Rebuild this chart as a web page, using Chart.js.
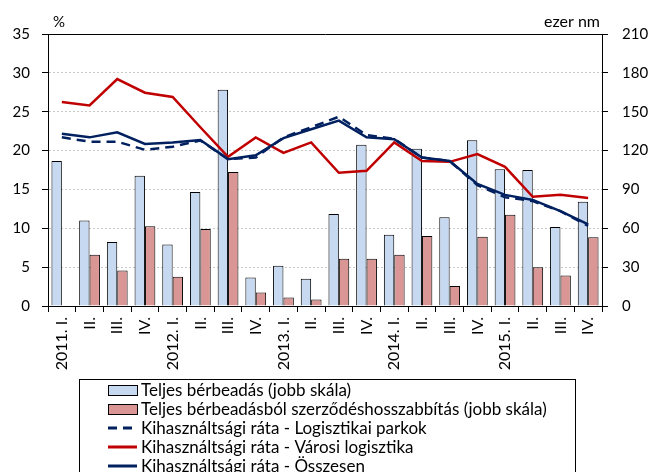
<!DOCTYPE html>
<html lang="hu">
<head>
<meta charset="UTF-8">
<title>Logisztikai ingatlanpiac</title>
<script src="https://cdn.jsdelivr.net/npm/chart.js"></script>
<style>
  html, body { margin: 0; padding: 0; background: #fff; overflow: hidden; }
</style>
</head>
<body>
<canvas id="chart" width="653" height="472"></canvas>
<script>
// quarters on the x axis
const quarters = ['2011. I.', 'II.', 'III.', 'IV.', '2012. I.', 'II.', 'III.', 'IV.',
                  '2013. I.', 'II.', 'III.', 'IV.', '2014. I.', 'II.', 'III.', 'IV.',
                  '2015. I.', 'II.', 'III.', 'IV.'];

// ezer nm (right scale)
const totalLeasing = [112, 66, 49.5, 100.5, 47.5, 88, 167, 22, 31, 21,
                      71, 124.5, 55, 121.5, 68.5, 128, 105.5, 105, 61, 80.5];
const renewals = [null, 39.5, 27.5, 61.5, 22.5, 59.5, 103.5, 10.5, 6.5, 5,
                  36.5, 36.5, 39.5, 54, 15.5, 53.5, 70.5, 30, 23.5, 53];

// kihasználtsági ráta, % (left scale)
const rateParks = [21.7, 21.15, 21.15, 20.1, 20.5, 21.3, 18.9, 19.1, 21.7, 23.0,
                   24.35, 22.0, 21.5, 19.1, 18.65, 15.55, 14.0, 13.5, 12.2, 10.3];
const rateCity = [26.25, 25.8, 29.2, 27.45, 26.9, 23.0, 19.2, 21.7, 19.7, 21.05,
                  17.15, 17.4, 21.05, 18.65, 18.55, 19.55, 17.9, 14.05, 14.3, 13.9];
const rateTotal = [22.15, 21.7, 22.35, 20.85, 21.05, 21.35, 18.9, 19.4, 21.6, 22.75,
                   23.85, 21.7, 21.45, 19.1, 18.65, 15.7, 14.3, 13.65, 12.2, 10.5];

Chart.defaults.font.family = 'Lato';
Chart.defaults.font.size = 15;
Chart.defaults.color = '#000';

// "%" and "ezer nm" above the two axes
const axisTitles = {
  id: 'axisTitles',
  afterDraw(chart) {
    const {ctx, chartArea} = chart;
    ctx.save();
    ctx.fillStyle = '#000';
    ctx.textBaseline = 'middle';
    ctx.font = '15px Lato';
    ctx.textAlign = 'left';
    ctx.fillText('%', chartArea.left + 5, 22);
    ctx.font = '16px Lato';
    ctx.textAlign = 'right';
    ctx.fillText('ezer nm', chartArea.right - 2, 22);
    ctx.restore();
  }
};

// framed legend under the axis, one item per row
const boxLegend = {
  id: 'boxLegend',
  afterDraw(chart) {
    const ctx = chart.ctx;
    ctx.save();
    ctx.strokeStyle = '#000';
    ctx.lineWidth = 1;
    ctx.strokeRect(79.5, 379.5, 496, 130);
    ctx.font = '17px Lato';
    ctx.textBaseline = 'middle';
    chart.data.datasets.forEach((ds, i) => {
      const y = 390 + i * 19;
      if (ds.type === 'line') {
        ctx.strokeStyle = ds.borderColor;
        ctx.lineWidth = 3;
        ctx.setLineDash(ds.borderDash || []);
        ctx.beginPath();
        ctx.moveTo(108, y);
        ctx.lineTo(137, y);
        ctx.stroke();
        ctx.setLineDash([]);
      } else {
        ctx.fillStyle = ds.backgroundColor;
        ctx.fillRect(108, y - 5, 29, 10);
        ctx.strokeStyle = '#000';
        ctx.lineWidth = 1;
        ctx.strokeRect(108.5, y - 4.5, 29, 10);
      }
      ctx.fillStyle = '#000';
      ctx.fillText(ds.label, 141, y + 1);
    });
    ctx.restore();
  }
};

new Chart(document.getElementById('chart'), {
  type: 'bar',
  data: {
    labels: quarters,
    datasets: [
      {
        label: 'Teljes bérbeadás (jobb skála)',
        data: totalLeasing,
        yAxisID: 'y1',
        backgroundColor: '#c6d9f1',
        borderColor: '#000',
        borderWidth: 1,
        barPercentage: 1,
        categoryPercentage: 0.75,
        order: 10
      },
      {
        label: 'Teljes bérbeadásból szerződéshosszabbítás (jobb skála)',
        data: renewals,
        yAxisID: 'y1',
        backgroundColor: '#d99694',
        borderColor: '#000',
        borderWidth: 1,
        barPercentage: 1,
        categoryPercentage: 0.75,
        order: 11
      },
      {
        type: 'line',
        label: 'Kihasználtsági ráta - Logisztikai parkok',
        data: rateParks,
        yAxisID: 'y',
        borderColor: '#002060',
        borderWidth: 2.5,
        borderDash: [9, 6],
        pointRadius: 0,
        tension: 0,
        order: 3
      },
      {
        type: 'line',
        label: 'Kihasználtsági ráta - Városi logisztika',
        data: rateCity,
        yAxisID: 'y',
        borderColor: '#c00000',
        borderWidth: 2.5,
        pointRadius: 0,
        tension: 0,
        order: 2
      },
      {
        type: 'line',
        label: 'Kihasználtsági ráta - Összesen',
        data: rateTotal,
        yAxisID: 'y',
        borderColor: '#002060',
        borderWidth: 2.5,
        pointRadius: 0,
        tension: 0,
        order: 1
      }
    ]
  },
  options: {
    responsive: false,
    animation: false,
    layout: { padding: { top: 34, left: 0, right: 0, bottom: 0 } },
    plugins: {
      legend: { display: false },
      tooltip: { enabled: false }
    },
    scales: {
      x: {
        afterFit: scale => { scale.height = 166; },
        grid: { drawOnChartArea: false, tickColor: '#000', tickLength: 6 },
        border: { color: '#000' },
        ticks: { autoSkip: false, minRotation: 90, maxRotation: 90, padding: 5, font: { size: 16 } }
      },
      y: {
        position: 'left',
        min: 0,
        max: 35,
        afterFit: scale => { scale.width = 48; },
        ticks: { stepSize: 5, padding: 12 },
        grid: {
          color: c => (c.tick.value === 35 || c.tick.value === 0) ? '#000' : '#c8c8c8',
          tickColor: '#000',
          tickLength: 6
        },
        border: {
          color: '#000',
          dash: c => (c.tick && (c.tick.value === 35 || c.tick.value === 0)) ? [] : [2, 2]
        }
      },
      y1: {
        position: 'right',
        min: 0,
        max: 210,
        afterFit: scale => { scale.width = 51; },
        ticks: { stepSize: 30, padding: 14 },
        grid: { drawOnChartArea: false, tickColor: '#000', tickLength: 6 },
        border: { color: '#000' }
      }
    }
  },
  plugins: [axisTitles, boxLegend]
});
</script>
</body>
</html>
